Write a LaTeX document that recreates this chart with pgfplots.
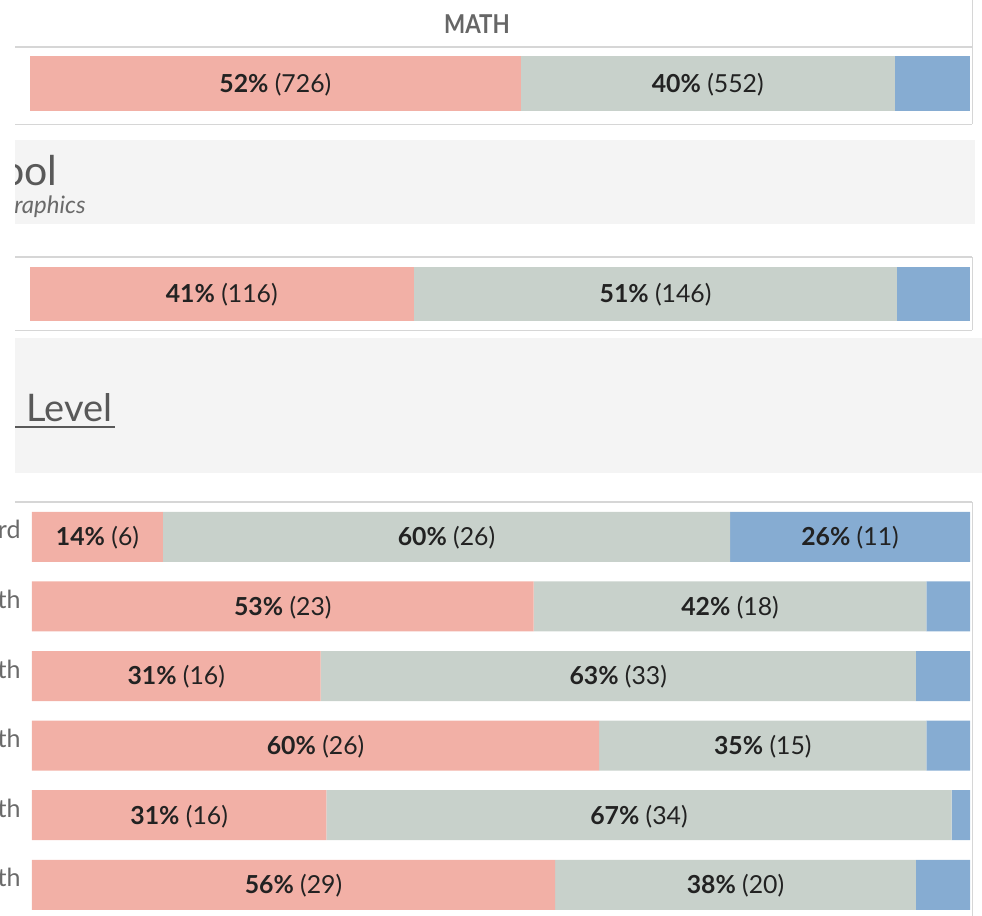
\documentclass[border=0pt]{standalone}
\usepackage{pgfplots}
\usepackage{pgfplotstable}
\pgfplotsset{compat=1.18}
\usepackage{fontspec}
\setmainfont{Lato}

\definecolor{redseg}{HTML}{F2B0A6}
\definecolor{greyseg}{HTML}{C8D1CB}
\definecolor{blueseg}{HTML}{86ACD2}
\definecolor{band}{HTML}{F4F4F4}
\definecolor{rule}{HTML}{D6D6D6}
\definecolor{hdr}{HTML}{666666}
\definecolor{title}{HTML}{595959}
\definecolor{lbltext}{HTML}{222222}
\definecolor{rowtext}{HTML}{6A6A6A}

% grade level rows, percent of students per band
\pgfplotstableread{
row red grey blue
0 13.95 60.47 25.58
1 53.49 41.86 4.65
2 30.77 63.46 5.77
3 60.47 34.88 4.65
4 31.37 66.67 1.96
5 55.77 38.46 5.77
}\gradetab

\pgfplotsset{
  panel/.style={scale only axis, xmin=0, xmax=100, hide axis, clip=false},
  seg/.style={fill=#1, draw=none},
  lbl/.style={draw=none, mark=none, nodes near coords, point meta=explicit symbolic,
    every node near coord/.append style={font=\fontsize{12.4}{14}\selectfont, text=lbltext, anchor=center, yshift=-0.5pt}},
  rowlbl/.style={draw=none, mark=none, nodes near coords, point meta=explicit symbolic,
    every node near coord/.append style={font=\fontsize{12.5}{14}\selectfont, text=rowtext, anchor=base east, inner sep=0pt, xshift=-5.5pt, yshift=-1pt}},
}

\begin{document}
\begin{tikzpicture}
\path[use as bounding box] (0,0) rectangle (491pt,-458pt);
\clip (0,0) rectangle (491pt,-458pt);

\begin{scope}[x=0.5pt,y=-0.5pt]
  % header
  \node[font=\bfseries\fontsize{13}{15}\selectfont, text=hdr, xscale=0.86, transform shape] at (477,24) {MATH};
  \draw[rule, line width=0.6pt] (15,47) -- (972,47);
  \draw[rule] (15,124) -- (972,124);
  \draw[rule] (972,0) -- (972,124);
  % school band
  \begin{scope}
    \clip (15,140) rectangle (975,224);
    \fill[band] (15,140) rectangle (975,224);
    \node[anchor=base east, inner sep=0pt, font=\fontsize{20.5}{24}\selectfont, text=title] at (58,185) {ool};
    \node[anchor=base east, inner sep=0pt, font=\itshape\fontsize{12}{14}\selectfont, text=rowtext] at (86,213) {raphics};
  \end{scope}
  \draw[rule, line width=0.6pt] (15,257) -- (972,257);
  \draw[rule] (15,330) -- (972,330);
  \draw[rule] (972,257) -- (972,330);
  % grade level band
  \fill[band] (15,338) rectangle (982,473);
  \node (gl) [anchor=base east, inner sep=0pt, font=\fontsize{19}{23}\selectfont, text=title] at (113,421) {Level};
  \draw[title, line width=1pt] (15,427) -- (115,427);
  \draw[rule, line width=0.6pt] (15,502) -- (972,502);
  \draw[rule] (972,502) -- (972,916);
\end{scope}

% all students
\begin{axis}[panel, xbar stacked, at={(15pt,-61pt)}, anchor=south west,
  width=470pt, height=38.5pt, ymin=-0.5, ymax=0.5, bar width=27.5pt]
  \addplot[seg=redseg] coordinates {(52.2,0)};
  \addplot[seg=greyseg] coordinates {(39.8,0)};
  \addplot[seg=blueseg] coordinates {(8.0,0)};
\end{axis}
\begin{axis}[panel, at={(15pt,-61pt)}, anchor=south west,
  width=470pt, height=38.5pt, ymin=-0.5, ymax=0.5]
  \addplot[lbl] coordinates {(26.1,0) [{\textbf{52\%} (726)}] (72.1,0) [{\textbf{40\%} (552)}]};
\end{axis}

% school
\begin{axis}[panel, xbar stacked, at={(15pt,-166.25pt)}, anchor=south west,
  width=470pt, height=38.5pt, ymin=-0.5, ymax=0.5, bar width=27pt]
  \addplot[seg=redseg] coordinates {(40.85,0)};
  \addplot[seg=greyseg] coordinates {(51.4,0)};
  \addplot[seg=blueseg] coordinates {(7.75,0)};
\end{axis}
\begin{axis}[panel, at={(15pt,-166.25pt)}, anchor=south west,
  width=470pt, height=38.5pt, ymin=-0.5, ymax=0.5]
  \addplot[lbl] coordinates {(20.4,0) [{\textbf{41\%} (116)}] (66.55,0) [{\textbf{51\%} (146)}]};
\end{axis}

% grade levels
\begin{axis}[panel, xbar stacked, y dir=reverse, at={(16pt,-459.8pt)}, anchor=south west,
  width=469pt, height=208.8pt, ymin=-0.5, ymax=5.5, bar width=25pt]
  \addplot[seg=redseg] table[x=red, y=row] {\gradetab};
  \addplot[seg=greyseg] table[x=grey, y=row] {\gradetab};
  \addplot[seg=blueseg] table[x=blue, y=row] {\gradetab};
\end{axis}
\begin{axis}[panel, y dir=reverse, at={(16pt,-459.8pt)}, anchor=south west,
  width=469pt, height=208.8pt, ymin=-0.5, ymax=5.5]
  \addplot[lbl] coordinates {
    (6.98,0) [{\textbf{14\%} (6)}] (44.19,0) [{\textbf{60\%} (26)}] (87.21,0) [{\textbf{26\%} (11)}]
    (26.74,1) [{\textbf{53\%} (23)}] (74.42,1) [{\textbf{42\%} (18)}]
    (15.38,2) [{\textbf{31\%} (16)}] (62.50,2) [{\textbf{63\%} (33)}]
    (30.23,3) [{\textbf{60\%} (26)}] (77.91,3) [{\textbf{35\%} (15)}]
    (15.69,4) [{\textbf{31\%} (16)}] (64.71,4) [{\textbf{67\%} (34)}]
    (27.88,5) [{\textbf{56\%} (29)}] (75.00,5) [{\textbf{38\%} (20)}]
  };
  \addplot[rowlbl] coordinates {(0,0) [rd] (0,1) [th] (0,2) [th] (0,3) [th] (0,4) [th] (0,5) [th]};
\end{axis}
\end{tikzpicture}
\end{document}
